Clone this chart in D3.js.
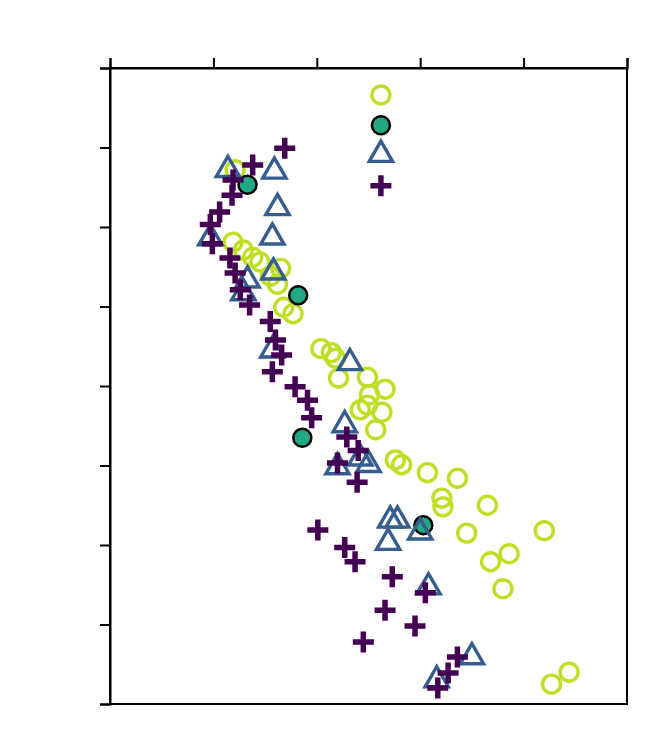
<!DOCTYPE html>
<html>
<head>
<meta charset="utf-8">
<script src="https://cdn.jsdelivr.net/npm/d3@7"></script>
<style>
  body { margin: 0; background: #fff; }
</style>
</head>
<body>
<div class="container"></div>
<script>
const width = 659;
const height = 740;
const margin = {top: 68, right: 32, bottom: 36, left: 110};

// open yellow-green circles
const ringX = [2.62, 1.21, 1.19, 1.29, 1.38, 1.45, 1.65, 1.55, 1.62, 1.68, 1.77, 2.04, 2.14, 2.18, 2.21, 2.49, 2.66, 2.51, 2.49, 2.42, 2.63, 2.57, 2.76, 2.82, 3.07, 3.36, 3.21, 3.22, 3.65, 3.45, 4.20, 3.68, 3.86, 3.80, 4.27, 4.44];
const ringY = [7.66, 6.72, 5.81, 5.71, 5.62, 5.56, 5.48, 5.38, 5.28, 4.99, 4.91, 4.47, 4.42, 4.35, 4.10, 4.11, 3.96, 3.89, 3.76, 3.70, 3.67, 3.45, 3.07, 3.01, 2.91, 2.84, 2.59, 2.48, 2.50, 2.15, 2.18, 1.79, 1.89, 1.45, 0.25, 0.40];

// filled teal circles
const dotX = [2.62, 1.33, 1.82, 1.86, 3.03];
const dotY = [7.28, 6.53, 5.14, 3.35, 2.25];

// open triangles
const triX = [2.62, 1.14, 1.59, 1.62, 1.57, 0.97, 1.58, 1.33, 1.29, 1.57, 2.32, 2.27, 2.42, 2.50, 2.20, 2.71, 2.78, 2.69, 3.00, 3.08, 3.50, 3.16];
const triY = [6.91, 6.72, 6.70, 6.24, 5.87, 5.86, 5.43, 5.33, 5.17, 4.45, 4.29, 3.51, 3.09, 3.01, 2.98, 2.31, 2.31, 2.03, 2.16, 1.47, 0.59, 0.30];

// plus markers
const plusX = [2.62, 1.69, 1.38, 1.19, 1.18, 1.06, 0.97, 0.99, 1.16, 1.21, 1.26, 1.35, 1.55, 1.60, 1.66, 1.57, 1.79, 1.91, 1.95, 2.29, 2.40, 2.20, 2.39, 2.01, 2.27, 2.37, 2.73, 3.05, 2.66, 2.95, 2.45, 3.36, 3.27, 3.17];
const plusY = [6.52, 6.99, 6.78, 6.59, 6.40, 6.19, 6.03, 5.79, 5.61, 5.42, 5.21, 5.02, 4.81, 4.58, 4.39, 4.18, 3.99, 3.82, 3.60, 3.36, 3.19, 3.03, 2.79, 2.19, 1.97, 1.79, 1.60, 1.40, 1.18, 0.98, 0.78, 0.59, 0.39, 0.20];

const xTicks = [0, 1, 2, 3, 4, 5];
const yTicks = [0, 1, 2, 3, 4, 5, 6, 7, 8];

const svg = d3.select(".container")
    .append("svg")
    .attr("width", width)
    .attr("height", height);

const xScale = d3.scaleLinear()
    .domain([0, 5])
    .range([margin.left, width - margin.right]);

const yScale = d3.scaleLinear()
    .domain([0, 8])
    .range([height - margin.bottom, margin.top]);

const zip = (xs, ys) => xs.map((x, i) => [x, ys[i]]);

// frame
svg.append("rect")
    .attr("x", xScale(0))
    .attr("y", yScale(8))
    .attr("width", xScale(5) - xScale(0))
    .attr("height", yScale(0) - yScale(8))
    .attr("fill", "none")
    .attr("stroke", "#000")
    .attr("stroke-width", 2);

const topAxis = svg.append("g")
    .attr("transform", `translate(0,${yScale(8)})`)
    .call(d3.axisTop(xScale).tickValues(xTicks).tickSize(10).tickFormat(""));

const leftAxis = svg.append("g")
    .attr("transform", `translate(${xScale(0)},0)`)
    .call(d3.axisLeft(yScale).tickValues(yTicks).tickSize(10).tickFormat(""));

[topAxis, leftAxis].forEach(a => {
    a.select(".domain").attr("stroke-width", 2);
    a.selectAll(".tick line").attr("stroke-width", 2);
});

const g = svg.append("g");

g.selectAll("circle.ring")
    .data(zip(ringX, ringY))
    .enter()
    .append("circle")
    .attr("class", "ring")
    .attr("cx", d => xScale(d[0]))
    .attr("cy", d => yScale(d[1]))
    .attr("r", 9)
    .attr("fill", "none")
    .attr("stroke", "#bddf26")
    .attr("stroke-width", 3.4);

g.selectAll("circle.dot")
    .data(zip(dotX, dotY))
    .enter()
    .append("circle")
    .attr("class", "dot")
    .attr("cx", d => xScale(d[0]))
    .attr("cy", d => yScale(d[1]))
    .attr("r", 9)
    .attr("fill", "#22a884")
    .attr("stroke", "#000")
    .attr("stroke-width", 2.5);

const tri = d3.symbol().type(d3.symbolTriangle).size(235);

g.selectAll("path.tri")
    .data(zip(triX, triY))
    .enter()
    .append("path")
    .attr("class", "tri")
    .attr("d", tri)
    .attr("transform", d => `translate(${xScale(d[0])},${yScale(d[1])})`)
    .attr("fill", "none")
    .attr("stroke", "#365d8d")
    .attr("stroke-width", 3.4)
    .attr("stroke-linejoin", "miter");

g.selectAll("path.plus")
    .data(zip(plusX, plusY))
    .enter()
    .append("path")
    .attr("class", "plus")
    .attr("d", "M-10.5,0H10.5M0,-10.5V10.5")
    .attr("transform", d => `translate(${xScale(d[0])},${yScale(d[1])})`)
    .attr("fill", "none")
    .attr("stroke", "#440154")
    .attr("stroke-width", 5.5);
</script>
</body>
</html>
